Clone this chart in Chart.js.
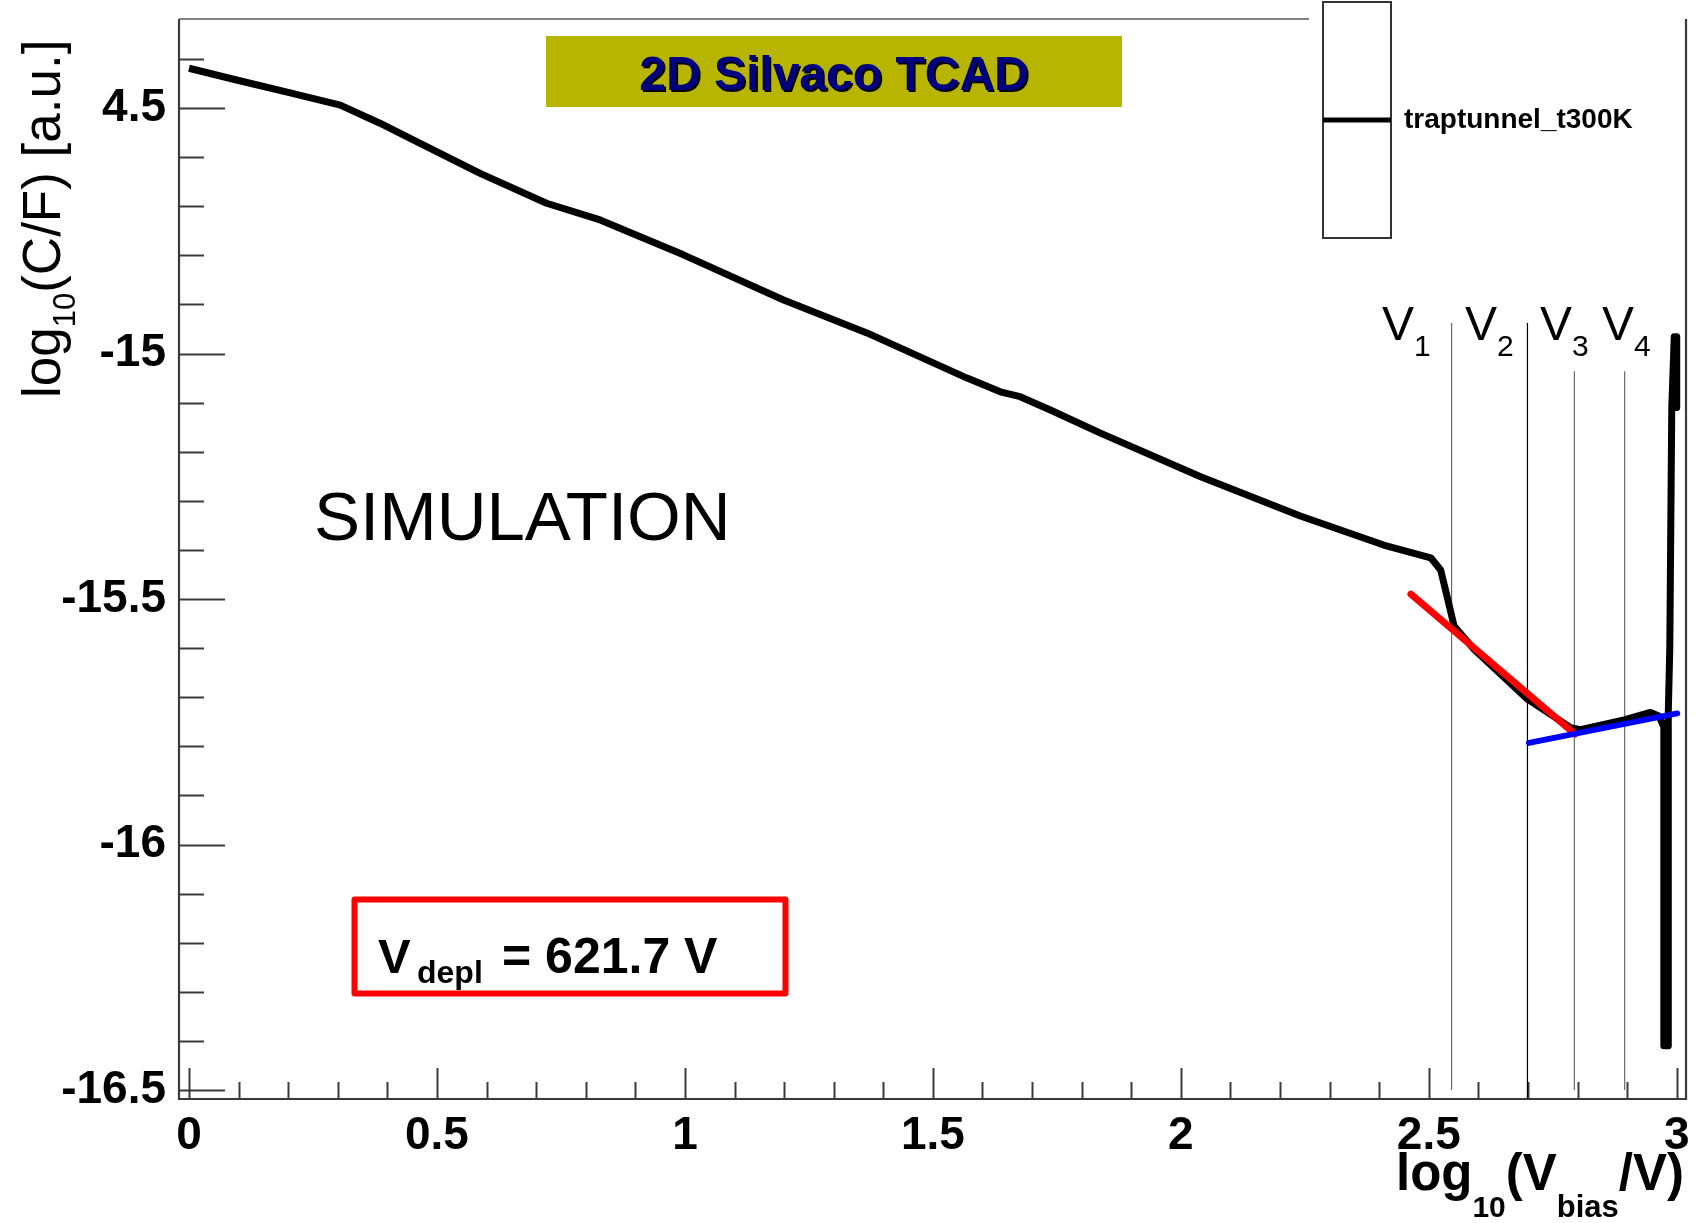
<!DOCTYPE html>
<html>
<head>
<meta charset="utf-8">
<title>C-V depletion voltage</title>
<script src="https://cdn.jsdelivr.net/npm/chart.js@4.4.1/dist/chart.umd.min.js"></script>
<style>
  html, body { margin: 0; padding: 0; background: #fff; }
  canvas { display: block; }
</style>
</head>
<body>
<canvas id="cv" width="1696" height="1223"></canvas>
<script>
'use strict';

// C-V curve: log10(Vbias/V) against log10(C/F)
const logV = [
    0, 0.1, 0.2, 0.305, 0.385, 0.452, 0.587, 0.721, 0.829, 0.997,
    1.199, 1.367, 1.569, 1.636, 1.676, 1.737, 1.838, 2.040, 2.241, 2.409,
    2.504, 2.524, 2.537, 2.551, 2.591, 2.699, 2.786, 2.806, 2.894, 2.947,
    2.964, 2.974, 2.974, 2.983, 2.983, 2.986, 2.990, 2.995, 3.000, 3.000
];
const logC = [
    -14.419, -14.444, -14.468, -14.494, -14.531, -14.565, -14.633, -14.694, -14.728, -14.799,
    -14.891, -14.958, -15.050, -15.078, -15.088, -15.115, -15.162, -15.251, -15.331, -15.390,
    -15.416, -15.441, -15.495, -15.555, -15.602, -15.704, -15.762, -15.766, -15.746, -15.731,
    -15.738, -15.760, -16.410, -16.410, -15.730, -15.600, -15.110, -14.966, -14.966, -15.110
];

// straight-line fits below and above full depletion
const riseFitX = [2.464, 2.795];
const riseFitY = [-15.490, -15.775];
const flatFitX = [2.702, 3.001];
const flatFitY = [-15.793, -15.733];

// marker voltages V1..V4, V3 is the depletion voltage
const vDepl = 621.7;
const markerX = [2.546, 2.699, Math.log10(vDepl), 2.895];
const markerTop = [-14.938, -14.938, -15.036, -15.036];
const markerBottom = [-16.5, -16.518, -16.5, -16.5];
const markerNames = ['1', '2', '3', '4'];

const xTicks = [0, 0.5, 1, 1.5, 2, 2.5, 3];
const xTickLabels = ['0', '0.5', '1', '1.5', '2', '2.5', '3'];
const yTicks = [-14.5, -15, -15.5, -16, -16.5];
const yTickLabels = ['4.5', '-15', '-15.5', '-16', '-16.5'];

const FONT = "'Liberation Sans', Arial, Helvetica, sans-serif";
const tickFont = { family: FONT, size: 46, weight: 'bold' };

const pts = (xs, ys) => xs.map((x, i) => ({ x: x, y: ys[i] }));

const datasets = [
    {
        label: 'traptunnel_t300K',
        data: pts(logV, logC),
        borderColor: '#000',
        borderWidth: 7,
        borderJoinStyle: 'round',
        order: 2
    },
    {
        label: 'fit below',
        data: pts(riseFitX, riseFitY),
        borderColor: '#ff0000',
        borderWidth: 7,
        borderCapStyle: 'round',
        order: 1
    },
    {
        label: 'fit above',
        data: pts(flatFitX, flatFitY),
        borderColor: '#0000ff',
        borderWidth: 6,
        borderCapStyle: 'round',
        order: 0
    }
];

markerX.forEach((x, i) => {
    datasets.push({
        label: 'V' + markerNames[i],
        data: [{ x: x, y: markerTop[i] }, { x: x, y: markerBottom[i] }],
        borderColor: i === 1 ? '#000' : '#6a6a6a',
        borderWidth: 1.2,
        order: 3
    });
});

datasets.forEach(d => {
    d.showLine = true;
    d.pointRadius = 0;
    d.tension = 0;
});

// draws a row of text pieces, some of them as subscripts
function drawRuns(ctx, runs, x, y) {
    runs.forEach(r => {
        ctx.font = r.font;
        const at = r.x !== undefined ? r.x : x;
        ctx.fillText(r.text, at, y + (r.dy || 0));
        x = at + ctx.measureText(r.text).width;
    });
    return x;
}

function runsWidth(ctx, runs) {
    let w = 0;
    runs.forEach(r => {
        ctx.font = r.font;
        w += ctx.measureText(r.text).width;
    });
    return w;
}

function line(ctx, x1, y1, x2, y2) {
    ctx.beginPath();
    ctx.moveTo(x1, y1);
    ctx.lineTo(x2, y2);
    ctx.stroke();
}

const rootFrame = {
    id: 'rootFrame',

    beforeDatasetsDraw(chart) {
        const { ctx, chartArea: a, scales: { x, y } } = chart;
        ctx.save();
        ctx.strokeStyle = '#3a3a3a';
        ctx.lineWidth = 2.2;
        ctx.beginPath();
        ctx.moveTo(a.left, a.top);
        ctx.lineTo(a.left, a.bottom);
        ctx.lineTo(a.right, a.bottom);
        ctx.lineTo(a.right, a.top);
        ctx.stroke();

        // top edge is hidden under the legend on the right
        ctx.strokeStyle = '#555';
        ctx.lineWidth = 1.6;
        line(ctx, a.left, a.top, 1309, a.top);

        // ticks point into the frame
        ctx.strokeStyle = '#3a3a3a';
        ctx.lineWidth = 2;
        for (let i = 0; i <= 30; i++) {
            const px = Math.round(x.getPixelForValue(i / 10)) + 0.5;
            line(ctx, px, a.bottom, px, a.bottom - (i % 5 === 0 ? 31 : 17));
        }
        for (let i = 0; i <= 21; i++) {
            const py = Math.round(y.getPixelForValue(-16.5 + i / 10)) + 0.5;
            line(ctx, a.left, py, a.left + (i % 5 === 0 ? 46 : 25), py);
        }
        ctx.restore();
    },

    afterDraw(chart) {
        const { ctx } = chart;
        ctx.save();
        ctx.fillStyle = '#000';
        ctx.textBaseline = 'alphabetic';
        ctx.textAlign = 'left';

        // axis titles
        ctx.save();
        ctx.translate(60, 398);
        ctx.rotate(-Math.PI / 2);
        drawRuns(ctx, [
            { text: 'log', font: '53px ' + FONT },
            { text: '10', font: '31px ' + FONT, dy: 15 },
            { text: '(C/F) [a.u.]', font: '53px ' + FONT }
        ], 0, 0);
        ctx.restore();

        const xTitle = [
            { text: 'log', font: 'bold 51px ' + FONT },
            { text: '10', font: 'bold 30px ' + FONT, dy: 27 },
            { text: '(V', font: 'bold 51px ' + FONT },
            { text: 'bias', font: 'bold 31px ' + FONT, dy: 27 },
            { text: '/V)', font: 'bold 51px ' + FONT }
        ];
        drawRuns(ctx, xTitle, 1684 - runsWidth(ctx, xTitle), 1190);

        // simulation banner
        ctx.fillStyle = '#b7b500';
        ctx.fillRect(546, 36, 576, 71);
        ctx.font = 'bold 48px ' + FONT;
        ctx.textAlign = 'center';
        ctx.fillStyle = '#000';
        ctx.fillText('2D Silvaco TCAD', 836, 92);
        ctx.fillStyle = '#000080';
        ctx.fillText('2D Silvaco TCAD', 834, 90);
        ctx.textAlign = 'left';

        // legend
        ctx.fillStyle = '#fff';
        ctx.fillRect(1323, 2, 68, 236);
        ctx.strokeStyle = '#333';
        ctx.lineWidth = 2;
        ctx.strokeRect(1323, 2, 68, 236);
        ctx.strokeStyle = '#000';
        ctx.lineWidth = 5;
        line(ctx, 1323, 120, 1391, 120);
        ctx.fillStyle = '#000';
        ctx.font = 'bold 28px ' + FONT;
        ctx.fillText('traptunnel_t300K', 1404, 128);

        // marker labels sit just left of their lines
        const labelLeft = [1382, 1465, 1540, 1602];
        markerNames.forEach((n, i) => {
            drawRuns(ctx, [
                { text: 'V', font: '48px ' + FONT },
                { text: n, font: '30px ' + FONT, dy: 16 }
            ], labelLeft[i], 340);
        });

        ctx.font = '69px ' + FONT;
        ctx.fillText('SIMULATION', 314, 540);

        // depletion voltage box
        ctx.strokeStyle = '#ff0000';
        ctx.lineWidth = 6;
        ctx.lineJoin = 'round';
        ctx.strokeRect(354.5, 899.5, 431, 94);
        drawRuns(ctx, [
            { text: 'V', font: 'bold 49px ' + FONT, x: 378 },
            { text: 'depl', font: 'bold 32px ' + FONT, dy: 10, x: 417 },
            { text: '= ' + vDepl.toFixed(1) + ' V', font: 'bold 50px ' + FONT, x: 502 }
        ], 378, 973);

        ctx.restore();
    }
};

new Chart(document.getElementById('cv'), {
    type: 'scatter',
    data: { datasets: datasets },
    options: {
        responsive: false,
        devicePixelRatio: 1,
        animation: false,
        events: [],
        layout: { padding: { top: 19, right: 10, left: 0, bottom: 0 } },
        plugins: {
            legend: { display: false },
            tooltip: { enabled: false }
        },
        scales: {
            x: {
                type: 'linear',
                min: -0.0202,
                max: 3.0187,
                grid: { display: false, drawTicks: false },
                border: { display: false },
                afterBuildTicks: s => { s.ticks = xTicks.map(v => ({ value: v })); },
                afterFit: s => {
                    s.height = 124;
                    s.paddingLeft = 0;
                    s.paddingRight = 0;
                },
                ticks: {
                    font: tickFont,
                    color: '#000',
                    padding: 10,
                    maxRotation: 0,
                    autoSkip: false,
                    callback: v => xTickLabels[xTicks.indexOf(v)]
                }
            },
            y: {
                type: 'linear',
                min: -16.5183,
                max: -14.3187,
                grid: { display: false, drawTicks: false },
                border: { display: false },
                afterBuildTicks: s => { s.ticks = yTicks.map(v => ({ value: v })); },
                afterFit: s => {
                    s.width = 179;
                    s.paddingTop = 0;
                    s.paddingBottom = 0;
                },
                ticks: {
                    font: tickFont,
                    color: '#000',
                    padding: 13,
                    autoSkip: false,
                    callback: v => yTickLabels[yTicks.indexOf(v)]
                }
            }
        }
    },
    plugins: [rootFrame]
});
</script>
</body>
</html>
